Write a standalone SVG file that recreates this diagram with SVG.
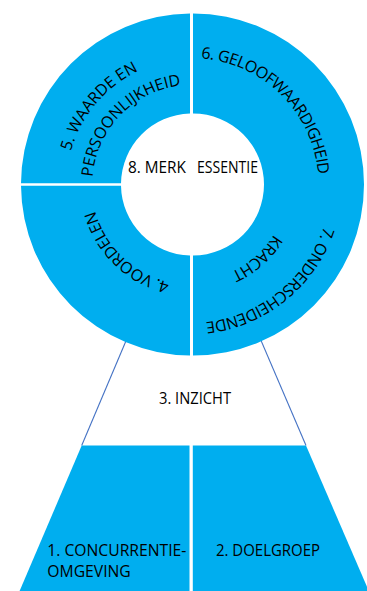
<svg xmlns="http://www.w3.org/2000/svg" width="367" height="591" viewBox="0 0 367 591">
<style>
.blue{fill:#00AEEF}
.txt{font-family:"Open Sans","Liberation Sans",sans-serif;font-size:15.5px;fill:#000}
.arc{font-family:"Open Sans","Liberation Sans",sans-serif;font-size:16px;fill:#000}
.tight{letter-spacing:-0.5px}
.edge{stroke:#4472C4;stroke-width:1.1;fill:none}
</style>
<defs>
<path id="p5a" d="M109.7,282.5 A128,128 0 0 1 274.3,86.5"/>
<path id="p5b" d="M122.5,256.4 A100,100 0 0 1 261.5,112.6"/>
<path id="p6" d="M101.7,95.2 A127,127 0 0 1 282.3,273.8"/>
<path id="p7a" d="M301.4,95.6 A141,141 0 0 1 82.6,273.4"/>
<path id="p7b" d="M265.4,119.6 A98,98 0 0 1 118.6,249.4"/>
<path id="p4" d="M264.9,254.4 A101,101 0 0 1 119.1,114.6"/>
</defs>
<rect width="367" height="591" fill="#fff"/>
<g id="node-3">
<polygon points="143.3,300 243.7,300 306,445.5 81.7,445.5" fill="#fff"/>
<line class="edge" x1="143.3" y1="300" x2="81.7" y2="445.5"/>
<line class="edge" x1="243.7" y1="300" x2="306" y2="445.5"/>
<text class="txt" x="159" y="404" textLength="72" lengthAdjust="spacingAndGlyphs">3. INZICHT</text>
</g>
<g id="node-1">
<polygon class="blue" points="81.7,445.5 189.5,445.5 189.5,591 19.6,591"/>
<text class="txt" x="47.3" y="556" textLength="139" lengthAdjust="spacingAndGlyphs">1. CONCURRENTIE-</text>
<text class="txt" x="47.3" y="577" textLength="83.5" lengthAdjust="spacingAndGlyphs">OMGEVING</text>
</g>
<g id="node-2">
<polygon class="blue" points="192.8,445.5 306,445.5 368.8,591 192.8,591"/>
<text class="txt" x="216" y="556" textLength="104" lengthAdjust="spacingAndGlyphs">2. DOELGROEP</text>
</g>
<g id="node-5">
<path class="blue" d="M190,13.5 L190,113.5 A71,71 0 0 0 121,183.3 L21,183.3 A171,171 0 0 1 190,13.5 Z"/>
<text class="arc"><textPath href="#p5a" startOffset="50%" text-anchor="middle">5. WAARDE EN</textPath></text>
<text class="arc"><textPath href="#p5b" startOffset="50%" text-anchor="middle">PERSOONLIJKHEID</textPath></text>
</g>
<g id="node-4">
<path class="blue" d="M21,185.8 L121,185.8 A71,71 0 0 0 190,255.5 L190,355.5 A171,171 0 0 1 21,185.8 Z"/>
<text class="arc" style="letter-spacing:-0.3px"><textPath href="#p4" startOffset="50%" text-anchor="middle">4. VOORDELEN</textPath></text>
</g>
<g id="node-6-7">
<path class="blue" d="M193,13.5 A171,171 0 0 1 193,355.5 L193,255.5 A71,71 0 0 0 193,113.5 Z"/>
<text class="arc tight"><textPath href="#p6" startOffset="50%" text-anchor="middle">6. GELOOFWAARDIGHEID</textPath></text>
<text class="arc tight"><textPath href="#p7a" startOffset="50%" text-anchor="middle">7. ONDERSCHEIDENDE</textPath></text>
<text class="arc tight"><textPath href="#p7b" startOffset="50%" text-anchor="middle">KRACHT</textPath></text>
</g>
<g id="node-8">
<text class="txt" x="128" y="173" textLength="58" lengthAdjust="spacingAndGlyphs">8. MERK</text>
<text class="txt" x="197" y="173" textLength="61" lengthAdjust="spacingAndGlyphs">ESSENTIE</text>
</g>
<g id="connectors"></g>
</svg>
